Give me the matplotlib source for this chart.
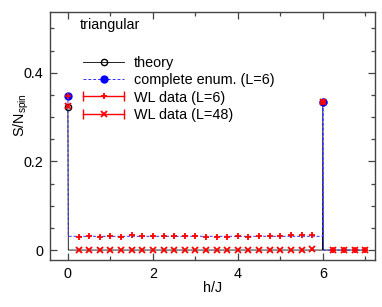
import matplotlib
matplotlib.use("Agg")
import matplotlib.pyplot as plt
import numpy as np
from matplotlib.ticker import MultipleLocator, FuncFormatter
from matplotlib.legend_handler import HandlerBase
from matplotlib.lines import Line2D

plt.rcParams['font.family'] = ['Liberation Sans', 'DejaVu Sans']
plt.rcParams['mathtext.default'] = 'regular'
plt.rcParams['font.size'] = 10.4

# theory (exact) and complete enumeration, L=6
theory_h = [0, 0.01, 5.99, 6, 6.01, 7]
theory_s = [0.3231, 0, 0, 0.3332, 0, 0]
enum_h = [0, 0.01, 5.99, 6, 6.01, 7]
enum_s = [0.348, 0.031, 0.031, 0.333, 0, 0]

# Wang-Landau data
wl_h = [0, 0.25, 0.5, 0.75, 1.0, 1.25, 1.5, 1.75, 2.0, 2.25, 2.5, 2.75, 3.0,
        3.25, 3.5, 3.75, 4.0, 4.25, 4.5, 4.75, 5.0, 5.25, 5.5, 5.75,
        6.0, 6.25, 6.5, 6.75, 7.0]
wl6_s = [0.348, 0.029, 0.031, 0.029, 0.032, 0.030, 0.033, 0.031, 0.031, 0.031,
         0.032, 0.031, 0.031, 0.029, 0.030, 0.030, 0.032, 0.030, 0.032, 0.032,
         0.032, 0.033, 0.034, 0.034, 0.333, 0, 0, 0, 0]
wl48_s = [0.324, 0, 0, 0, 0, 0, 0, 0, 0, 0, 0, 0, 0, 0, 0, 0, 0, 0, 0, 0,
          0, 0, 0.001, 0.002, 0.333, 0, 0, 0, 0]


# legend entry: horizontal error bar with caps and the marker in the middle
class HandlerXBar(HandlerBase):
    def create_artists(self, legend, orig, xd, yd, w, h, fs, trans):
        y = h / 2 - yd
        x0, x1 = -xd, w - xd
        c = orig.get_color()
        bar = Line2D([x0, x1], [y, y], color=c, lw=1.0, transform=trans)
        caps = Line2D([x0, x1], [y, y], ls='none', marker='|', ms=7, mew=1.0,
                      color=c, transform=trans)
        mk = Line2D([(x0 + x1) / 2], [y], ls='none', marker=orig.get_marker(),
                    ms=orig.get_markersize(), mew=orig.get_markeredgewidth(),
                    color=c, transform=trans)
        return [bar, caps, mk]


fig = plt.figure(figsize=(3.82, 3.07), dpi=100)
ax = fig.add_axes([0.131, 0.153, 0.851, 0.808])

l_th, = ax.plot(theory_h, theory_s, '-', color='k', lw=0.6, marker='o', ms=4.5,
                mfc='none', mec='k', mew=1.0, markevery=[0, 3], zorder=2)
l_en, = ax.plot(enum_h, enum_s, '--', color='#3030ff', lw=0.7, dashes=(3, 2),
                marker='o', ms=5, mfc='#0000ff', mec='#0000ff', markevery=[0, 3],
                zorder=3)
l_6, = ax.plot(wl_h, wl6_s, '+', color='#ff0000', ms=5, mew=1.3, zorder=4)
l_48, = ax.plot(wl_h, wl48_s, 'x', color='#ff0000', ms=4, mew=1.3, zorder=4)

handles = [l_th, l_en, l_6, l_48]
labels = ['theory', 'complete enum. (L=6)', 'WL data (L=6)', 'WL data (L=48)']
ax.legend(handles, labels, loc='upper left', bbox_to_anchor=(0.085, 0.845),
          frameon=False, numpoints=1, handlelength=2.8, handletextpad=0.7,
          labelspacing=0.22, borderaxespad=0,
          handler_map={l_6: HandlerXBar(), l_48: HandlerXBar()})

ax.text(0.092, 0.975, 'triangular', transform=ax.transAxes, ha='left', va='top')

ax.set_xlim(-0.42, 7.23)
ax.set_ylim(-0.0225, 0.537)
ax.xaxis.set_major_locator(MultipleLocator(2))
ax.xaxis.set_minor_locator(MultipleLocator(1))
ax.yaxis.set_major_locator(MultipleLocator(0.2))
ax.yaxis.set_minor_locator(MultipleLocator(0.05))
ax.yaxis.set_major_formatter(FuncFormatter(lambda v, p: '0' if abs(v) < 1e-9 else '%g' % v))
ax.tick_params(which='both', direction='in', top=True, right=True, color='#444444', width=0.9)
ax.tick_params(which='major', length=5, pad=5)
ax.tick_params(which='minor', length=3)
for s in ax.spines.values():
    s.set_color('#444444')
    s.set_linewidth(1.0)

ax.set_xlabel('h/J', labelpad=0)
ax.set_ylabel('S/N$_{spin}$')
ax.yaxis.set_label_coords(-0.06, 0.585)

fig.savefig('out.png', dpi=100)
